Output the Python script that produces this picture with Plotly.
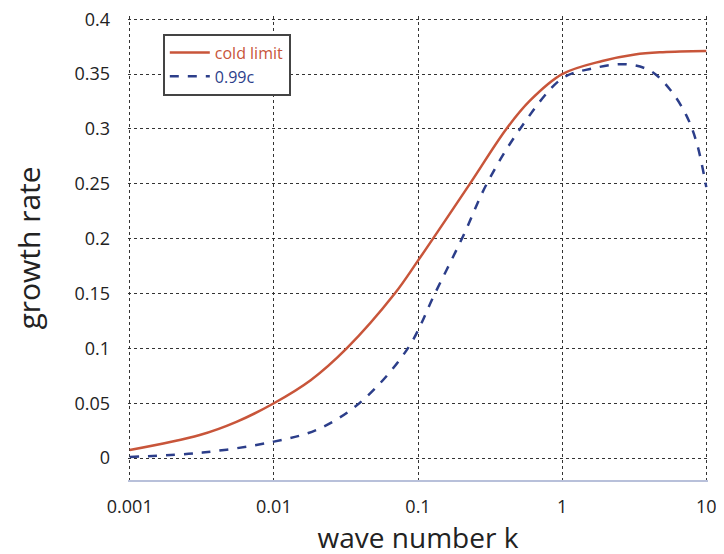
import plotly.graph_objects as go

k_cold = [0.001, 0.00306, 0.0055, 0.01, 0.018, 0.032, 0.069, 0.1, 0.229, 0.41, 0.6, 1.0, 1.9, 3.2, 5.0, 10.0]
g_cold = [0.0073, 0.021, 0.033, 0.050, 0.071, 0.100, 0.150, 0.180, 0.250, 0.300, 0.326, 0.350, 0.362, 0.368, 0.370, 0.371]

k_hot = [0.001, 0.0032, 0.01, 0.02, 0.04, 0.085, 0.131, 0.205, 0.30, 0.51, 1.0, 1.6, 2.77, 4.1, 5.6, 7.3, 8.6, 10.0]
g_hot = [0.001, 0.005, 0.015, 0.026, 0.051, 0.100, 0.150, 0.202, 0.250, 0.300, 0.346, 0.355, 0.359, 0.353, 0.336, 0.312, 0.287, 0.247]

x_ticks = [0.001, 0.01, 0.1, 1, 10]
x_tick_labels = ["0.001", "0.01", "0.1", "1", "10"]
y_ticks = [0, 0.05, 0.1, 0.15, 0.2, 0.25, 0.3, 0.35, 0.4]
y_tick_labels = ["0", "0.05", "0.1", "0.15", "0.2", "0.25", "0.3", "0.35", "0.4"]

RED = "#c8553a"
BLUE = "#2c3e8a"

fig = go.Figure()
fig.add_trace(go.Scatter(
    x=k_cold, y=g_cold, mode="lines", line=dict(color=RED, width=2.5, shape="spline", smoothing=1.0),
    name="<span style='color:%s'>cold limit</span>" % RED))
fig.add_trace(go.Scatter(
    x=k_hot, y=g_hot, mode="lines", line=dict(color=BLUE, width=2.5, dash="dash", shape="spline", smoothing=1.0),
    name="<span style='color:%s'>0.99c</span>" % BLUE))

font = "Open Sans, DejaVu Sans, sans-serif"
fig.update_layout(
    width=724, height=554,
    margin=dict(l=120, r=24, t=8, b=82),
    paper_bgcolor="white", plot_bgcolor="white",
    font=dict(family=font, size=18, color="#222"),
    showlegend=True,
    legend=dict(x=0.06, y=0.962, xanchor="left", yanchor="top",
                bgcolor="white", bordercolor="#444", borderwidth=2,
                font=dict(size=16), tracegroupgap=0, itemwidth=40,
                entrywidth=150, entrywidthmode="pixels"),
    xaxis=dict(type="log", range=[-3.012, 1.012], tickvals=x_ticks, ticktext=x_tick_labels,
               showgrid=True, gridcolor="#333", griddash="dot", gridwidth=1,
               showline=True, linecolor="#b8c0da", linewidth=2, mirror=False,
               ticks="", zeroline=False, automargin=False, ticklabelstandoff=9,
               ticklabeloverflow="allow",
               title=dict(text="wave number k", font=dict(size=28), standoff=0)),
    yaxis=dict(range=[-0.02, 0.403], tickvals=y_ticks, ticktext=y_tick_labels,
               showgrid=True, gridcolor="#333", griddash="dot", gridwidth=1,
               showline=False,
               ticks="", zeroline=False, automargin=False, ticklabelstandoff=17,
               ticklabeloverflow="allow",
               title=dict(text="growth rate", font=dict(size=30), standoff=28)),
)

fig.write_html("out.html")
